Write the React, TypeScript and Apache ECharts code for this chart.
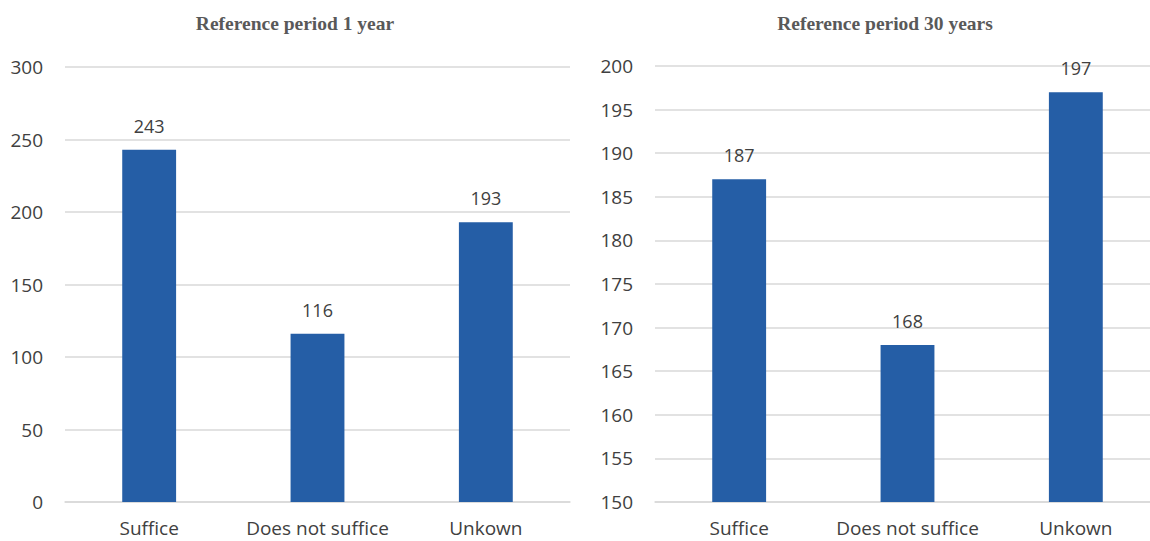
import React, { useEffect, useRef } from "react";
import * as echarts from "echarts";

const categories = ["Suffice", "Does not suffice", "Unkown"];
const values1Year = [243, 116, 193];
const values30Years = [187, 168, 197];
const titles = ["Reference period 1 year", "Reference period 30 years"];

export default function App() {
  const ref = useRef<HTMLDivElement>(null);
  useEffect(() => {
    const chart = echarts.init(ref.current!, null, { renderer: "svg" });
    const labelFont = { fontFamily: "Open Sans", fontSize: 19, color: "#404040" };
    const axisX = (gridIndex: number) => ({
      type: "category" as const,
      gridIndex,
      data: categories,
      axisLine: { show: true, lineStyle: { color: "#d9d9d9", width: 1.5 } },
      axisTick: { show: false },
      axisLabel: { ...labelFont, margin: 16, interval: 0 },
    });
    const axisY = (gridIndex: number, min: number, max: number, interval: number) => ({
      type: "value" as const,
      gridIndex,
      min,
      max,
      interval,
      axisLine: { show: false },
      axisTick: { show: false },
      splitLine: { lineStyle: { color: "#d9d9d9", width: 1.5 } },
      axisLabel: { ...labelFont, margin: 22 },
    });
    const barSeries = (idx: number, data: number[]) => ({
      type: "bar" as const,
      xAxisIndex: idx,
      yAxisIndex: idx,
      data,
      barWidth: "32%",
      itemStyle: { color: "#255EA6" },
      label: { show: true, position: "top" as const, distance: 15, ...labelFont, fontSize: 18 },
    });
    chart.setOption({
      animation: false,
      title: [
        {
          text: titles[0],
          left: 290,
          top: 8,
          textAlign: "center",
          textStyle: { fontFamily: "Liberation Serif", fontWeight: "bold", fontSize: 19.5, color: "#595959" },
        },
        {
          text: titles[1],
          left: 880,
          top: 8,
          textAlign: "center",
          textStyle: { fontFamily: "Liberation Serif", fontWeight: "bold", fontSize: 19.5, color: "#595959" },
        },
      ],
      grid: [
        { left: 65, width: 505, top: 67, height: 435 },
        { left: 655, width: 505, top: 66, height: 436 },
      ],
      xAxis: [axisX(0), axisX(1)],
      yAxis: [axisY(0, 0, 300, 50), axisY(1, 150, 200, 5)],
      series: [barSeries(0, values1Year), barSeries(1, values30Years)],
    });
    return () => chart.dispose();
  }, []);
  return (
    <div
      style={{ position: "absolute", left: 0, top: 0, width: 1150, height: 541, overflow: "hidden", background: "#fff" }}
    >
      <div ref={ref} style={{ width: 1170, height: 541 }} />
    </div>
  );
}
